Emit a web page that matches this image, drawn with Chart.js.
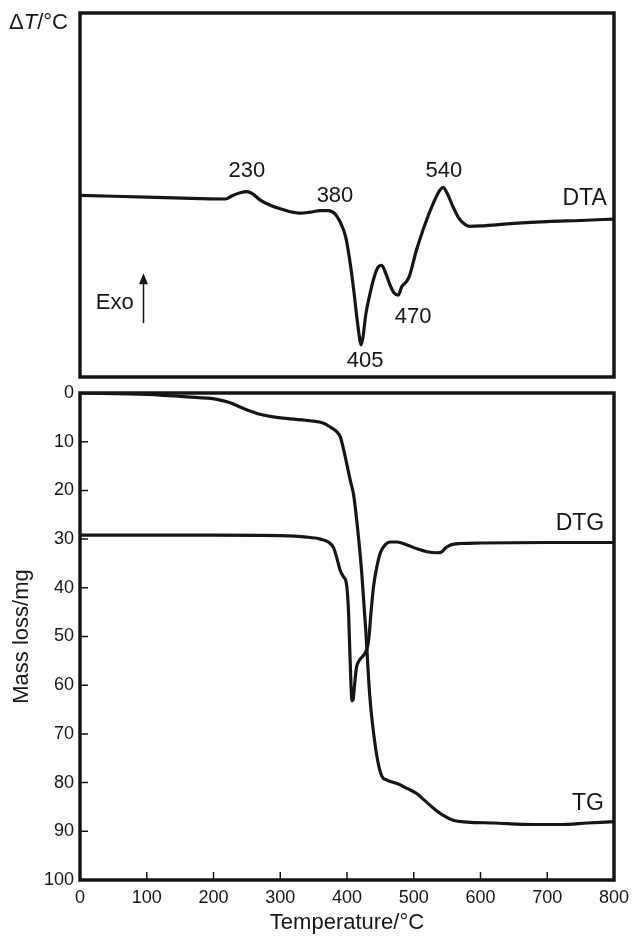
<!DOCTYPE html>
<html>
<head>
<meta charset="utf-8">
<script src="https://cdn.jsdelivr.net/npm/chart.js@4.4.1/dist/chart.umd.min.js"></script>
<style>
    html, body { margin: 0; padding: 0; background: #fff; }
    #wrap { position: relative; width: 632px; height: 939px; }
    .box { position: absolute; left: 0; width: 632px; }
    #dtaBox { top: 0; height: 385px; }
    #tgBox { top: 380px; height: 559px; }
</style>
</head>
<body>
<div id="wrap">
    <div class="box" id="dtaBox"><canvas id="dtaChart"></canvas></div>
    <div class="box" id="tgBox"><canvas id="tgChart"></canvas></div>
</div>
<script>
// DTA trace (arbitrary units, 0 = bottom of panel, 100 = top)
const dtaTemp = [0, 100, 180, 218, 228, 240, 250, 258, 270, 285, 300, 315, 330, 345, 360, 372, 382, 390, 398, 405, 410, 415, 419, 421, 424, 428, 434, 440, 446, 452, 458, 464, 470, 477, 482, 488, 493, 504, 515, 529, 538, 544, 550, 559, 567, 575, 584, 600, 650, 700, 750, 800];
const dtaSignal = [49.9, 49.4, 49.0, 48.9, 49.8, 50.6, 50.9, 50.4, 48.6, 47.2, 46.2, 45.4, 45.0, 45.3, 45.7, 45.7, 44.8, 42.5, 38.5, 31, 24, 16, 10.5, 8.8, 11, 17, 22.5, 27, 30, 30.7, 28.5, 25.5, 23.2, 22.5, 24.8, 26, 27.5, 34.8, 41, 47.6, 51, 52.1, 50.5, 46.7, 43.8, 42.2, 41.4, 41.5, 42.2, 42.7, 43.0, 43.4];

// TG trace, mass loss in mg
const tgTemp = [0, 100, 160, 205, 225, 245, 265, 285, 315, 345, 365, 375, 385, 390, 393, 398, 405, 410, 416, 422, 428, 434, 440, 446, 452, 460, 475, 490, 505, 515, 530, 545, 560, 580, 620, 680, 720, 760, 800];
const tgMass = [0, 0.3, 0.8, 1.3, 2, 3.2, 4.2, 4.8, 5.3, 5.7, 6.2, 7, 8, 9, 10.5, 13.5, 18, 21, 28, 36.8, 48.5, 62, 70, 75.5, 78.6, 79.5, 80.2, 81.2, 82.3, 83.5, 85.3, 86.8, 87.8, 88.1, 88.3, 88.6, 88.6, 88.3, 88.0];

// DTG trace, drawn on the mass-loss scale
const dtgTemp = [0, 200, 300, 340, 360, 372, 380, 385, 390, 395, 399, 402, 404, 406, 407.5, 409, 411, 414, 418, 424, 430, 433, 436, 440, 445, 450, 457, 465, 475, 490, 505, 520, 535, 542, 548, 555, 570, 600, 700, 800];
const dtgSignal = [29.2, 29.2, 29.3, 29.6, 30.0, 30.6, 31.8, 34, 36.5, 37.8, 39, 44, 52, 60, 63.2, 63, 60.5, 56.5, 55, 54, 52.5, 50, 45, 39.5, 35.5, 32.8, 31.2, 30.6, 30.6, 31.2, 32, 32.6, 32.8, 32.6, 31.8, 31.2, 30.9, 30.8, 30.7, 30.7];

// peak temperatures printed on the DTA panel
const peakNames = ['230', '380', '405', '470', '540'];

const INK = '#161616';
const FONT = '"Liberation Sans", Arial, sans-serif';

const toPoints = (xs, ys) => xs.map((x, i) => ({ x, y: ys[i] }));

const lineSet = (label, xs, ys) => ({
    label,
    data: toPoints(xs, ys),
    showLine: true,
    borderColor: INK,
    borderWidth: 3.2,
    pointRadius: 0,
    cubicInterpolationMode: 'monotone',
    fill: false
});

// frame, inward ticks and text notes
const framePlugin = {
    id: 'frame',
    afterDraw(chart, args, opts) {
        const { ctx, chartArea: a, scales } = chart;
        const px = v => scales.x.getPixelForValue(v);
        const py = v => scales.y.getPixelForValue(v);
        ctx.save();
        ctx.strokeStyle = INK;
        ctx.fillStyle = INK;
        ctx.lineWidth = 3.5;
        ctx.strokeRect(a.left, a.top, a.right - a.left, a.bottom - a.top);

        if (opts.ticks) {
            ctx.lineWidth = 1.5;
            ctx.beginPath();
            scales.x.ticks.forEach(t => {
                ctx.moveTo(px(t.value), a.bottom);
                ctx.lineTo(px(t.value), a.bottom - 8);
            });
            scales.y.ticks.forEach(t => {
                ctx.moveTo(a.left, py(t.value));
                ctx.lineTo(a.left + 8, py(t.value));
            });
            ctx.stroke();
        }

        ctx.textAlign = 'center';
        ctx.textBaseline = 'middle';
        (opts.notes || []).forEach(n => {
            ctx.font = `${n.size}px ${FONT}`;
            ctx.fillText(n.text, px(n.x), py(n.y));
        });

        if (opts.arrow) {
            const ar = opts.arrow;
            const x = Math.round(px(ar.x)) + 0.5;
            const yTop = py(ar.to), yBot = py(ar.from);
            ctx.lineWidth = 1.5;
            ctx.beginPath();
            ctx.moveTo(x, yBot);
            ctx.lineTo(x, yTop + 6);
            ctx.stroke();
            ctx.beginPath();
            ctx.moveTo(x, yTop);
            ctx.lineTo(x - 4.5, yTop + 11);
            ctx.lineTo(x + 4.5, yTop + 11);
            ctx.closePath();
            ctx.fill();
        }

        if (opts.cornerTitle) {
            // "ΔT/°C" with an italic T
            ctx.textAlign = 'left';
            const parts = [['\u0394', ''], ['T', 'italic '], ['/\u00B0C', '']];
            const size = 22;
            let w = 0;
            parts.forEach(([s, st]) => { ctx.font = `${st}${size}px ${FONT}`; w += ctx.measureText(s).width; });
            let x = a.left - 12 - w;
            const y = a.top + 10;
            parts.forEach(([s, st]) => {
                ctx.font = `${st}${size}px ${FONT}`;
                ctx.fillText(s, x, y);
                x += ctx.measureText(s).width;
            });
        }
        ctx.restore();
    }
};

// top panel: DTA
new Chart(document.getElementById('dtaChart'), {
    type: 'scatter',
    data: { datasets: [lineSet('DTA', dtaTemp, dtaSignal)] },
    options: {
        responsive: true,
        maintainAspectRatio: false,
        animation: false,
        layout: { padding: { left: 80, right: 18, top: 13, bottom: 8 } },
        plugins: {
            legend: { display: false },
            tooltip: { enabled: false },
            frame: {
                ticks: false,
                cornerTitle: true,
                arrow: { x: 94, from: 14.8, to: 28.5 },
                notes: [
                    { text: peakNames[0], x: 250, y: 56.7, size: 22 },
                    { text: peakNames[1], x: 382, y: 49.7, size: 22 },
                    { text: peakNames[2], x: 427, y: 4.4, size: 22 },
                    { text: peakNames[3], x: 499, y: 16.5, size: 22 },
                    { text: peakNames[4], x: 545, y: 56.5, size: 22 },
                    { text: 'DTA', x: 756, y: 49.1, size: 23 },
                    { text: 'Exo', x: 52, y: 20.4, size: 22 }
                ]
            }
        },
        scales: {
            x: { type: 'linear', min: 0, max: 800, display: false },
            y: { type: 'linear', min: 0, max: 100, display: false }
        }
    },
    plugins: [framePlugin]
});

// bottom panel: TG and DTG
new Chart(document.getElementById('tgChart'), {
    type: 'scatter',
    data: {
        datasets: [
            lineSet('TG', tgTemp, tgMass),
            lineSet('DTG', dtgTemp, dtgSignal)
        ]
    },
    options: {
        responsive: true,
        maintainAspectRatio: false,
        animation: false,
        layout: { padding: { left: 0, right: 18, top: 13, bottom: 0 } },
        plugins: {
            legend: { display: false },
            tooltip: { enabled: false },
            frame: {
                ticks: true,
                notes: [
                    { text: 'DTG', x: 749, y: 26.8, size: 23 },
                    { text: 'TG', x: 761, y: 84.4, size: 23 }
                ]
            }
        },
        scales: {
            x: {
                type: 'linear',
                min: 0,
                max: 800,
                grid: { display: false, drawTicks: false },
                border: { display: false },
                ticks: { stepSize: 100, autoSkip: false, maxRotation: 0, padding: 7, color: INK, font: { family: FONT, size: 18 } },
                title: { display: true, text: 'Temperature/\u00B0C', color: INK, font: { family: FONT, size: 22 }, padding: { top: 0, bottom: 3 } },
                afterFit: s => { s.height = 59; s.paddingLeft = 0; s.paddingRight = 0; }
            },
            y: {
                type: 'linear',
                min: 0,
                max: 100,
                reverse: true,
                grid: { display: false, drawTicks: false },
                border: { display: false },
                ticks: { stepSize: 10, autoSkip: false, padding: 6, color: INK, font: { family: FONT, size: 18 } },
                title: { display: true, text: 'Mass loss/mg', color: INK, font: { family: FONT, size: 22 }, padding: { top: 9, bottom: 0 } },
                afterFit: s => { s.width = 80; s.paddingTop = 0; s.paddingBottom = 0; }
            }
        }
    },
    plugins: [framePlugin]
});
</script>
</body>
</html>
